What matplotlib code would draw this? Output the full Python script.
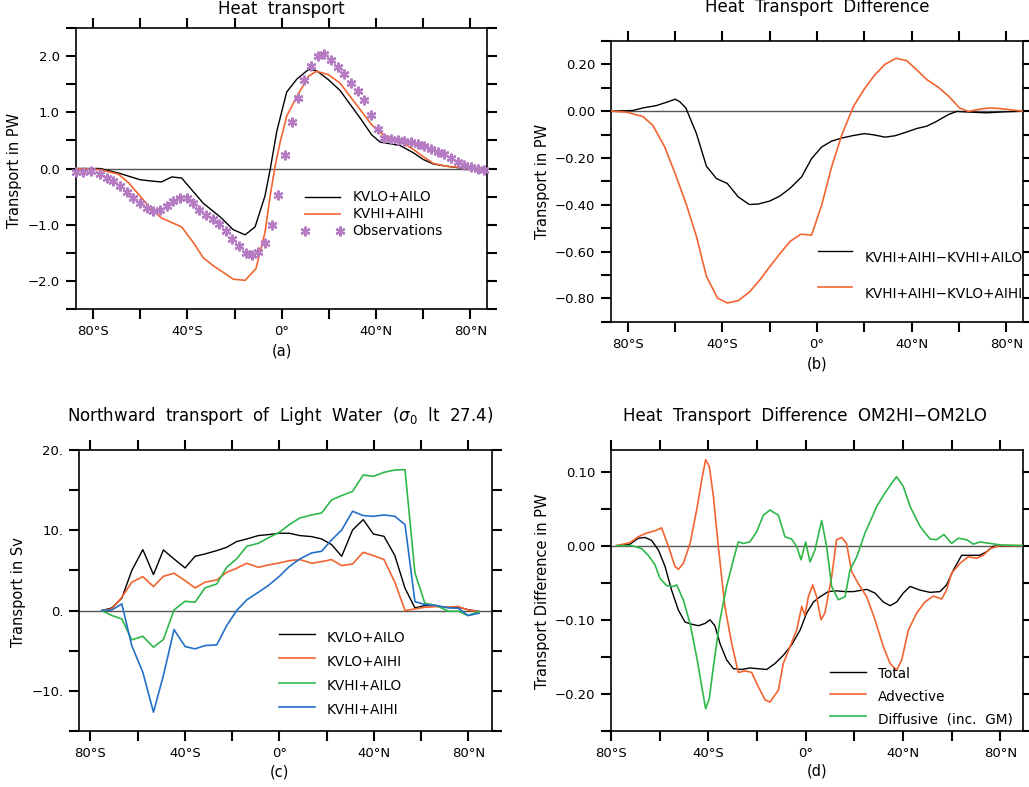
import numpy as np
import matplotlib
matplotlib.use("Agg")
import matplotlib.pyplot as plt
from matplotlib.lines import Line2D
from matplotlib.ticker import FixedLocator, FixedFormatter

plt.rcParams['font.family'] = ['DejaVu Sans']
plt.rcParams['axes.unicode_minus'] = True

W, H = 1029, 787

# ---------------- Panel (a) data ----------------
lat_a_lo = [-87.3, -77, -69.2, -60, -55.8, -51, -46.6, -42.4, -33.2, -26.1, -20.5, -15.5, -11.3, -7.1,
            -4.9, -2.1, 2.1, 6.4, 11.3, 14.8, 19.8, 24.7, 33.2, 38.1, 41.7, 45.9, 50.1, 55.8, 60, 64.3,
            69.9, 75.6, 87]
kvlo_ailo_a = [0, 0, -0.08, -0.2, -0.22, -0.24, -0.15, -0.17, -0.62, -0.86, -1.09, -1.18, -1.04, -0.49,
               -0.02, 0.66, 1.36, 1.59, 1.76, 1.74, 1.58, 1.39, 0.9, 0.6, 0.47, 0.44, 0.41, 0.28, 0.16, 0.08,
               0.04, 0.01, 0]
lat_a_hi = [-87.3, -77, -69.2, -65, -60, -55.8, -51, -46.6, -42.4, -37.4, -33.2, -29, -24.7, -20.5, -15.5,
            -10.9, -7.1, -4.9, -2.8, -0.7, 2.1, 6.4, 11.3, 14.8, 19.8, 24.7, 33.2, 38.1, 43, 50.1, 55.8, 60,
            64.3, 69.9, 75.6, 87]
kvhi_aihi_a = [0, -0.02, -0.1, -0.25, -0.49, -0.7, -0.88, -0.96, -1.04, -1.32, -1.59, -1.73, -1.85, -1.97,
               -1.99, -1.78, -1.14, -0.49, 0.04, 0.46, 0.93, 1.28, 1.64, 1.73, 1.67, 1.52, 1.05, 0.78, 0.6,
               0.49, 0.34, 0.21, 0.09, 0.04, 0.02, 0]
lat_obs = [-87.3, -84.0, -80.9, -77.0, -74.2, -71.3, -68.5, -65.7, -62.9, -60.0, -57.2, -54.4, -51.6, -48.7,
           -45.9, -43.1, -40.3, -37.4, -34.9, -32.1, -29.2, -26.4, -23.6, -20.9, -18.1, -15.3, -12.4, -9.9,
           -7.1, -4.2, -1.4, 1.4, 4.2, 7.1, 9.6, 12.4, 15.3, 18.1, 20.9, 23.7, 26.6, 29.4, 32.2, 35.0, 37.9,
           40.7, 43.5, 46.3, 49.2, 52.0, 54.8, 57.6, 60.5, 63.3, 66.1, 68.9, 71.8, 74.6, 77.4, 80.2, 83.1, 85.9]
obs_a = [-0.06, -0.06, -0.05, -0.09, -0.17, -0.22, -0.31, -0.41, -0.52, -0.62, -0.70, -0.76, -0.74, -0.67,
         -0.58, -0.52, -0.52, -0.62, -0.74, -0.83, -0.90, -0.99, -1.12, -1.26, -1.38, -1.50, -1.54, -1.48,
         -1.32, -1.00, -0.47, 0.24, 0.83, 1.26, 1.57, 1.83, 2.00, 2.04, 1.93, 1.81, 1.69, 1.53, 1.38, 1.22,
         0.95, 0.70, 0.55, 0.52, 0.50, 0.49, 0.47, 0.44, 0.40, 0.34, 0.30, 0.25, 0.18, 0.11, 0.06, 0.02,
         0.00, -0.03]

# ---------------- Panel (b) data ----------------
lat_b_k = [-87.2, -77.7, -73.5, -67.8, -63.6, -59.9, -58.0, -55.4, -50.9, -46.7, -42.5, -37.9, -33.3, -28.6,
           -24.8, -19.9, -15.7, -11.4, -6.5, -2.3, 2.0, 6.2, 10.4, 15.4, 20.0, 23.8, 28.8, 33.0, 37.9, 42.2,
           46.4, 50.6, 55.6, 59.1, 64.7, 71.8, 78.8, 87.0]
diff_ailo_b = [0, 0.003, 0.014, 0.024, 0.038, 0.051, 0.041, 0.014, -0.096, -0.235, -0.288, -0.309, -0.366,
               -0.399, -0.397, -0.384, -0.363, -0.330, -0.281, -0.203, -0.153, -0.128, -0.115, -0.104, -0.096,
               -0.101, -0.111, -0.105, -0.089, -0.074, -0.064, -0.043, -0.014, -0.001, -0.004, -0.007,
               -0.003, 0]
lat_b_o = [-87.2, -80.5, -73.5, -69.3, -64.3, -59.9, -55.1, -50.9, -46.7, -42.0, -37.9, -33.3, -28.6, -24.1,
           -19.9, -15.7, -11.4, -6.8, -2.3, 2.0, 6.2, 10.4, 15.4, 20.0, 24.5, 28.8, 33.4, 37.9, 42.2, 46.4,
           51.3, 55.6, 60.2, 64.0, 69.0, 73.2, 77.4, 81.7, 87.0]
diff_kvlo_b = [0, -0.004, -0.023, -0.061, -0.153, -0.267, -0.401, -0.536, -0.706, -0.799, -0.820, -0.810,
               -0.774, -0.721, -0.664, -0.610, -0.557, -0.526, -0.530, -0.401, -0.238, -0.104, 0.020, 0.095,
               0.156, 0.201, 0.226, 0.216, 0.176, 0.135, 0.102, 0.064, 0.014, -0.001, 0.009, 0.014, 0.011,
               0.006, 0]

# ---------------- Panel (c) data ----------------
lat_c = [-75.2, -70.9, -66.7, -62.5, -57.8, -53.3, -49.1, -44.6, -39.9, -35.7, -31.5, -26.5, -22.3, -18.1,
         -13.8, -8.9, -4.7, 0, 4.2, 8.7, 13.7, 17.9, 22.1, 26.4, 31.0, 35.5, 39.8, 44.3, 48.9, 53.2, 57.4,
         61.6, 66.6, 71.5, 75.7, 79.9, 84.5]
kvlo_ailo_c = [0, 0.33, 1.54, 4.98, 7.59, 4.48, 7.55, 6.43, 5.31, 6.76, 7.05, 7.47, 7.88, 8.59, 8.92, 9.34,
               9.46, 9.63, 9.63, 9.34, 9.21, 8.92, 8.22, 6.76, 10.04, 11.33, 9.54, 9.25, 6.85, 2.78, 0.33,
               0.62, 0.54, 0.41, 0.41, 0.12, -0.12]
kvlo_aihi_c = [0, 0.21, 1.66, 3.53, 4.23, 2.99, 4.27, 4.65, 3.73, 2.82, 3.53, 3.82, 4.77, 5.27, 5.89, 5.39,
               5.68, 5.93, 6.22, 6.35, 5.89, 6.10, 6.35, 5.60, 5.81, 7.26, 6.85, 6.35, 3.53, 0, 0.21, 0.41,
               0.50, 0.41, 0.50, 0.08, -0.12]
kvhi_ailo_c = [0, -0.62, -1.04, -3.65, -3.20, -4.56, -3.61, 0.08, 1.16, 1.04, 2.82, 3.32, 5.39, 6.43, 8.01,
               8.38, 9.05, 9.75, 10.71, 11.54, 11.91, 12.16, 13.78, 14.32, 14.85, 16.89, 16.72, 17.22, 17.51,
               17.55, 4.69, 0.91, 0.62, -0.08, -0.08, -0.62, -0.12]
kvhi_aihi_c = [0, 0.08, 0.83, -4.36, -7.68, -12.66, -8.09, -2.37, -4.48, -4.77, -4.36, -4.27, -1.87, 0, 1.33,
               2.28, 3.11, 4.27, 5.48, 6.43, 7.18, 7.39, 8.80, 10.04, 12.37, 11.83, 11.74, 11.91, 11.74, 10.71,
               1.12, 0.75, 0.62, 0.33, 0.29, -0.62, -0.33]

# ---------------- Panel (d) data ----------------
lat_d_tot = [-77.7, -72.2, -68.8, -66.0, -63.3, -60.5, -57.8, -55.1, -52.3, -49.6, -46.8, -44.1, -41.4, -39.3,
             -37.3, -35.2, -32.5, -29.7, -26.3, -22.9, -19.5, -16.0, -12.6, -9.2, -5.8, -2.3, 0.4, 3.2, 5.9,
             9.3, 12.7, 16.2, 19.6, 25.1, 28.5, 31.9, 34.7, 37.4, 40.1, 42.9, 47.0, 51.1, 55.2, 57.9, 60.7,
             64.1, 67.5, 71.6, 74.4, 77.1, 81.2, 89.2]
total_d = [0, 0.002, 0.010, 0.011, 0.007, -0.006, -0.028, -0.060, -0.087, -0.103, -0.106, -0.108, -0.105,
           -0.100, -0.108, -0.132, -0.154, -0.166, -0.167, -0.165, -0.166, -0.167, -0.159, -0.148, -0.134,
           -0.114, -0.091, -0.076, -0.069, -0.062, -0.061, -0.062, -0.062, -0.059, -0.064, -0.076, -0.081,
           -0.076, -0.064, -0.055, -0.060, -0.063, -0.062, -0.053, -0.033, -0.013, -0.013, -0.013, -0.008,
           -0.001, 0, 0]
lat_d_adv = [-77.7, -72.2, -68.8, -65.3, -61.9, -59.2, -56.4, -53.7, -52.3, -50.3, -47.5, -44.8, -42.7, -41.1,
             -39.6, -37.9, -35.9, -33.2, -30.4, -27.7, -24.9, -22.2, -19.5, -16.7, -14.7, -11.2, -9.2, -6.4,
             -3.7, -1.6, -0.3, 1.1, 2.9, 4.5, 6.3, 7.9, 10.7, 12.7, 14.8, 16.8, 18.9, 21.6, 25.1, 28.5, 31.9,
             34.7, 37.4, 39.5, 42.2, 45.6, 49.0, 52.5, 55.9, 57.9, 60.0, 63.4, 66.8, 70.3, 73.0, 75.8, 79.9,
             89.2]
advective_d = [0, 0.004, 0.012, 0.017, 0.020, 0.024, -0.001, -0.028, -0.032, -0.024, 0.003, 0.048, 0.089,
               0.116, 0.107, 0.066, -0.001, -0.082, -0.132, -0.171, -0.169, -0.171, -0.190, -0.208, -0.211,
               -0.195, -0.159, -0.136, -0.114, -0.082, -0.094, -0.069, -0.053, -0.069, -0.100, -0.091, -0.042,
               0.008, 0.011, 0.003, -0.035, -0.051, -0.069, -0.100, -0.136, -0.159, -0.168, -0.154, -0.114,
               -0.091, -0.076, -0.068, -0.072, -0.060, -0.037, -0.024, -0.015, -0.017, -0.013, -0.004, 0, 0]
lat_d_dif = [-77.7, -71.5, -67.4, -64.7, -61.9, -59.9, -57.1, -54.4, -53.0, -50.3, -47.5, -44.8, -42.7, -41.1,
             -39.6, -37.9, -35.2, -32.5, -29.7, -27.7, -25.6, -22.9, -20.1, -17.4, -14.7, -11.2, -8.5, -5.8,
             -3.7, -1.9, 0, 1.8, 3.8, 6.6, 8.6, 10.7, 13.4, 16.2, 18.2, 21.0, 24.4, 27.1, 29.2, 32.6, 35.3,
             37.4, 40.1, 42.9, 47.0, 51.1, 53.8, 56.8, 60.0, 62.7, 66.2, 68.9, 71.6, 75.8, 79.9, 89.2]
diffusive_d = [0, 0, -0.004, -0.013, -0.026, -0.044, -0.054, -0.055, -0.053, -0.073, -0.105, -0.150, -0.190,
               -0.220, -0.206, -0.163, -0.100, -0.055, -0.019, 0.005, 0.003, 0.005, 0.019, 0.041, 0.048, 0.041,
               0.012, 0.009, -0.001, -0.019, 0.005, -0.022, -0.006, 0.034, -0.001, -0.055, -0.073, -0.069,
               -0.033, -0.015, 0.017, 0.037, 0.053, 0.071, 0.084, 0.093, 0.080, 0.053, 0.026, 0.009, 0.008,
               0.015, 0.003, 0.010, 0.008, 0.002, 0.005, 0.003, 0.001, 0]

# ---------------- Styling ----------------
BLACK = '#000000'
ORANGE = '#f26430'
GREEN = '#2fb84a'
BLUE = '#2470c8'
PURPLE = '#b57cc4'
ZERO = '#555555'

TICK_FS = 9.5
LAB_FS = 10.5
TITLE_FS = 12
LEG_FS = 9.8

x_ticks = [-80, -60, -40, -20, 0, 20, 40, 60, 80]
x_labels = ['80°S', '', '40°S', '', '0°', '', '40°N', '', '80°N']

fig = plt.figure(figsize=(W / 100, H / 100), dpi=100)


def px_axes(l, t, r, b):
    return fig.add_axes([l / W, 1 - b / H, (r - l) / W, (b - t) / H])


def fmt(v, f):
    if abs(v) < 1e-9:
        v = 0.0
    return (f % v).replace('-', '\u2212')


def style(ax, xlim, ylim, yticks, ylab_vals, yfmt):
    ax.set_xlim(*xlim)
    ax.set_ylim(*ylim)
    ax.xaxis.set_major_locator(FixedLocator(x_ticks))
    ax.xaxis.set_major_formatter(FixedFormatter(x_labels))
    ax.yaxis.set_major_locator(FixedLocator(yticks))
    labs = []
    for v in yticks:
        if any(abs(v - lv) < 1e-9 for lv in ylab_vals):
            labs.append(fmt(v, yfmt))
        else:
            labs.append('')
    ax.yaxis.set_major_formatter(FixedFormatter(labs))
    ax.tick_params(direction='out', length=7, width=1.5, top=True, right=True,
                   labeltop=False, labelright=False, labelsize=TICK_FS, pad=4.5, color='black')
    for s in ax.spines.values():
        s.set_linewidth(1.2)
    ax.axhline(0, color=ZERO, lw=1.0, zorder=1)


def ftext(x, y, s, **kw):
    fig.text(x / W, 1 - y / H, s, **kw)


def fline(x0, x1, y, color, lw=1.0):
    fig.add_artist(Line2D([x0 / W, x1 / W], [1 - y / H, 1 - y / H], color=color, lw=lw))


def ylabel(text, x, y):
    ftext(x, y, text, rotation=90, ha='center', va='center', fontsize=LAB_FS)


# ---------------- (a) ----------------
la, ta, ra, ba = 75.7, 28, 487, 309
axa = px_axes(la, ta, ra, ba)
axa.plot(lat_a_lo, kvlo_ailo_a, color=BLACK, lw=1.0, zorder=3)
axa.plot(lat_a_hi, kvhi_aihi_a, color=ORANGE, lw=1.2, zorder=3)
axa.plot(lat_obs, obs_a, ls='none', marker=(6, 2, 0), ms=7, mew=1.6, mec=PURPLE, color=PURPLE, zorder=4,
         clip_on=False)
style(axa, (-87.3, 87.0), (-2.5, 2.5), list(np.arange(-2.5, 2.51, 0.5)), [-2, -1, 0, 1, 2], '%.1f')
ylabel('Transport in PW', 15, 170)
ftext(281.5, 9.5, 'Heat  transport', ha='center', va='center', fontsize=TITLE_FS)
ftext(281.7, 350.7, '(a)', ha='center', va='center', fontsize=LAB_FS)
fline(305, 340, 197.3, BLACK)
fline(305, 340, 214, ORANGE, 1.2)
fig.add_artist(Line2D([305 / W, 340 / W], [1 - 231 / H, 1 - 231 / H], ls='none', marker=(6, 2, 0),
                      ms=7, mew=1.6, color=PURPLE))
ftext(352.7, 197.3, 'KVLO+AILO', va='center', fontsize=LEG_FS)
ftext(352.7, 214, 'KVHI+AIHI', va='center', fontsize=LEG_FS)
ftext(352.7, 231, 'Observations', va='center', fontsize=LEG_FS)

# ---------------- (b) ----------------
lb, tb, rb, bb = 611, 41, 1022.7, 321.7
axb = px_axes(lb, tb, rb, bb)
axb.plot(lat_b_k, diff_ailo_b, color=BLACK, lw=1.0, zorder=3)
axb.plot(lat_b_o, diff_kvlo_b, color=ORANGE, lw=1.2, zorder=3)
style(axb, (-87.0, 86.9), (-0.9, 0.3), list(np.round(np.arange(-0.9, 0.31, 0.1), 2)),
      [-0.8, -0.6, -0.4, -0.2, 0.0, 0.2], '%.2f')
ylabel('Transport in PW', 542.7, 181.7)
ftext(817, 7.5, 'Heat  Transport  Difference', ha='center', va='center', fontsize=TITLE_FS)
ftext(817, 364, '(b)', ha='center', va='center', fontsize=LAB_FS)
fline(817.7, 852.3, 251.3, BLACK)
fline(817.7, 852.3, 286.7, ORANGE, 1.2)
ftext(864.3, 258.3, 'KVHI+AIHI\u2212KVHI+AILO', va='center', fontsize=LEG_FS)
ftext(864.3, 294, 'KVHI+AIHI\u2212KVLO+AIHI', va='center', fontsize=LEG_FS)

# ---------------- (c) ----------------
lc, tc, rc, bc = 79.3, 450, 491.7, 731
axc = px_axes(lc, tc, rc, bc)
axc.plot(lat_c, kvlo_ailo_c, color=BLACK, lw=1.0, zorder=3)
axc.plot(lat_c, kvlo_aihi_c, color=ORANGE, lw=1.2, zorder=3)
axc.plot(lat_c, kvhi_ailo_c, color=GREEN, lw=1.2, zorder=3)
axc.plot(lat_c, kvhi_aihi_c, color=BLUE, lw=1.2, zorder=3)
style(axc, (-84.7, 89.9), (-15, 20), [-15, -10, -5, 0, 5, 10, 15, 20], [-10, 0, 10, 20], '%.0f.')
ylabel('Transport in Sv', 19, 591.7)
ftext(279.7, 416, r'Northward  transport  of  Light  Water  ($\sigma_0$  lt  27.4)', ha='center',
      va='center', fontsize=TITLE_FS)
ftext(279.3, 771.7, '(c)', ha='center', va='center', fontsize=LAB_FS)
for yl, yt, col, lab in [(634.3, 637.7, BLACK, 'KVLO+AILO'), (658.3, 662, ORANGE, 'KVLO+AIHI'),
                         (682.7, 686, GREEN, 'KVHI+AILO'), (706.7, 710, BLUE, 'KVHI+AIHI')]:
    fline(279.3, 315, yl, col, 1.0 if col == BLACK else 1.2)
    ftext(326.7, yt, lab, va='center', fontsize=LEG_FS)

# ---------------- (d) ----------------
ld, td, rd, bd = 611, 450, 1022.7, 731
axd = px_axes(ld, td, rd, bd)
axd.plot(lat_d_tot, total_d, color=BLACK, lw=1.0, zorder=3)
axd.plot(lat_d_adv, advective_d, color=ORANGE, lw=1.2, zorder=3)
axd.plot(lat_d_dif, diffusive_d, color=GREEN, lw=1.2, zorder=3)
style(axd, (-80, 89.2), (-0.25, 0.129), list(np.round(np.arange(-0.25, 0.11, 0.05), 2)),
      [-0.2, -0.1, 0.0, 0.1], '%.2f')
ylabel('Transport Difference in PW', 542.7, 590.8)
ftext(805, 416, 'Heat  Transport  Difference  OM2HI\u2212OM2LO', ha='center', va='center', fontsize=TITLE_FS)
ftext(816.7, 770.7, '(d)', ha='center', va='center', fontsize=LAB_FS)
for yl, yt, col, lab in [(671.7, 674, BLACK, 'Total'), (694, 696.7, ORANGE, 'Advective'),
                         (716, 719.3, GREEN, 'Diffusive  (inc.  GM)')]:
    fline(830, 865.7, yl, col, 1.0 if col == BLACK else 1.2)
    ftext(878.3, yt, lab, va='center', fontsize=LEG_FS)

fig.savefig('out.png', dpi=100)
